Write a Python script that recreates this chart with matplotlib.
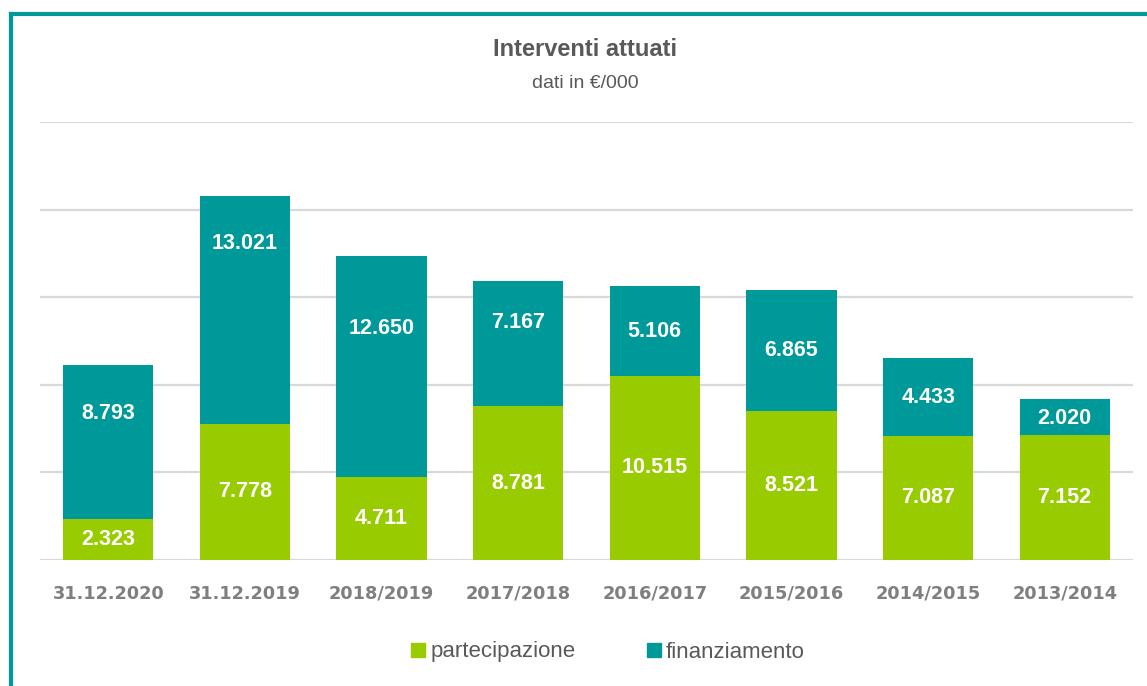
import matplotlib.pyplot as plt
from matplotlib.lines import Line2D

categories = ['31.12.2020', '31.12.2019', '2018/2019', '2017/2018',
              '2016/2017', '2015/2016', '2014/2015', '2013/2014']
partecipazione = [2323, 7778, 4711, 8781, 10515, 8521, 7087, 7152]
finanziamento = [8793, 13021, 12650, 7167, 5106, 6865, 4433, 2020]
# where the finanziamento label sits inside its segment (0 = bottom, 1 = top)
fin_label_pos = [0.69, 0.79, 0.67, 0.67, 0.5, 0.5, 0.5, 0.45]

green = '#99CC00'
teal = '#009999'
grey = '#595959'

narrow = ['Liberation Sans Narrow', 'Liberation Sans', 'DejaVu Sans']

fig = plt.figure(figsize=(11.47, 6.86), dpi=100)
ax = fig.add_axes([40 / 1147, 1 - 560 / 686, 1093 / 1147, 438 / 686])

x = range(len(categories))
w = 0.66
ax.bar(x, partecipazione, width=w, color=green, label='partecipazione', zorder=3)
ax.bar(x, finanziamento, width=w, bottom=partecipazione, color=teal,
       label='finanziamento', zorder=3)

def fmt(v):
    return f'{v:,}'.replace(',', '.')

for i, (p, f, q) in enumerate(zip(partecipazione, finanziamento, fin_label_pos)):
    ax.text(i, p / 2, fmt(p), ha='center', va='center', color='white',
            fontsize=15.5, fontweight='bold', family=narrow, zorder=4)
    ax.text(i, p + f * q, fmt(f), ha='center', va='center', color='white',
            fontsize=15.5, fontweight='bold', family=narrow, zorder=4)

ax.set_xlim(-0.5, len(categories) - 0.5)
ax.set_ylim(0, 25000)
ax.set_yticks(range(0, 25001, 5000))
ax.set_yticklabels([])
ax.grid(axis='y', color='#D9D9D9', linewidth=1.6, zorder=0)
ax.tick_params(axis='both', length=0)
ax.set_xticks(list(x))
ax.set_xticklabels(categories, fontsize=12.8, fontweight='bold', color='#7F7F7F')
ax.tick_params(axis='x', pad=18)
for s in ax.spines.values():
    s.set_visible(False)

fig.text(585 / 1147, 1 - 50 / 686, 'Interventi attuati', ha='center', va='center',
         fontsize=17, fontweight='bold', color=grey, family=narrow)
fig.text(585 / 1147, 1 - 83 / 686, 'dati in €/000', ha='center', va='center',
         fontsize=14, color=grey, family=narrow)

handles = [Line2D([], [], marker='s', linestyle='', markersize=9.5,
                  markerfacecolor=c, markeredgecolor=c) for c in (green, teal)]
leg = fig.legend(handles, ['partecipazione', 'finanziamento'], loc='center',
                 bbox_to_anchor=(606 / 1147, 1 - 652 / 686), ncol=2, frameon=False,
                 handletextpad=0.05, columnspacing=3.0, handlelength=1.0,
                 prop={'family': narrow, 'size': 16})
for t in leg.get_texts():
    t.set_color(grey)

# teal frame around the chart (top and left edges visible)
fig.add_artist(Line2D([11 / 1147, 1.0], [1 - 14 / 686, 1 - 14 / 686],
                      color=teal, linewidth=3, transform=fig.transFigure))
fig.add_artist(Line2D([11 / 1147, 11 / 1147], [0, 1 - 14 / 686],
                      color=teal, linewidth=3, transform=fig.transFigure))

fig.savefig('out.png', dpi=100)
